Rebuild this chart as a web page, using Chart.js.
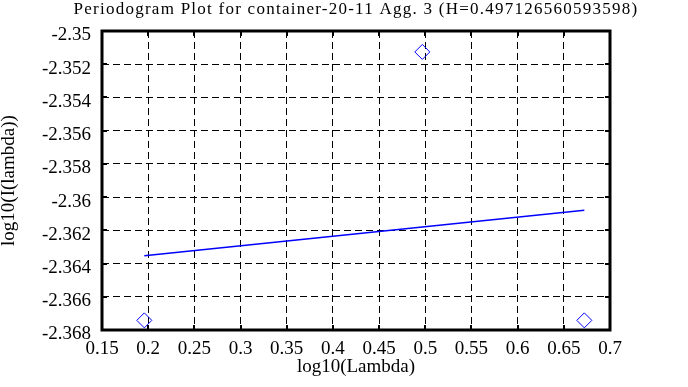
<!DOCTYPE html>
<html>
<head>
<meta charset="utf-8">
<script src="https://cdn.jsdelivr.net/npm/chart.js@4/dist/chart.umd.min.js"></script>
<style>
  html, body { margin: 0; padding: 0; background: #fff; }
  #wrap { width: 688px; height: 387px; position: relative; }
</style>
</head>
<body>
<div id="wrap"><canvas id="c" width="688" height="387"></canvas></div>
<script>
// Observed periodogram points (log10 lambda, log10 I(lambda))
const lambdaLog = [0.1958, 0.4968, 0.6722];
const periodLog = [-2.36742, -2.35126, -2.36742];
// Fitted regression line end points
const fitX = [0.1958, 0.6722];
const fitY = [-2.36353, -2.36079];
// Tick labels
const xTicks = [0.15, 0.2, 0.25, 0.3, 0.35, 0.4, 0.45, 0.5, 0.55, 0.6, 0.65, 0.7];
const yTicks = [-2.368, -2.366, -2.364, -2.362, -2.36, -2.358, -2.356, -2.354, -2.352, -2.35];

const titleText = 'Periodogram Plot for container-20-11 Agg. 3 (H=0.497126560593598)';
const FONT = 'Liberation Serif';

const frame = {
  id: 'frame',
  afterDraw(chart) {
    const { ctx, chartArea: a, scales } = chart;
    ctx.save();
    ctx.strokeStyle = '#000';
    ctx.setLineDash([]);
    ctx.lineWidth = 2;
    const L = 5;
    ctx.beginPath();
    xTicks.forEach(v => {
      const px = Math.round(scales.x.getPixelForValue(v));
      ctx.moveTo(px, a.top); ctx.lineTo(px, a.top + L);
      ctx.moveTo(px, a.bottom); ctx.lineTo(px, a.bottom - L);
    });
    yTicks.forEach(v => {
      const py = Math.round(scales.y.getPixelForValue(v));
      ctx.moveTo(a.left, py); ctx.lineTo(a.left + L, py);
      ctx.moveTo(a.right, py); ctx.lineTo(a.right - L, py);
    });
    ctx.stroke();
    ctx.lineWidth = 3;
    ctx.strokeRect(a.left, a.top, a.right - a.left, a.bottom - a.top);

    // chart title
    ctx.fillStyle = '#000';
    ctx.font = '17px "' + FONT + '"';
    if ('letterSpacing' in ctx) ctx.letterSpacing = '1.25px';
    ctx.textAlign = 'center';
    ctx.textBaseline = 'alphabetic';
    ctx.fillText(titleText, (a.left + a.right) / 2, 14);
    ctx.restore();
  }
};

new Chart(document.getElementById('c'), {
  type: 'scatter',
  data: {
    datasets: [
      {
        label: 'periodogram',
        data: lambdaLog.map((x, i) => ({ x, y: periodLog[i] })),
        pointStyle: 'rectRot',
        pointRadius: 7.5,
        pointBorderColor: '#0000ff',
        pointBackgroundColor: 'rgba(0,0,0,0)',
        pointBorderWidth: 1,
        showLine: false
      },
      {
        label: 'fit',
        data: fitX.map((x, i) => ({ x, y: fitY[i] })),
        showLine: true,
        borderColor: '#0000ff',
        borderWidth: 1.5,
        pointRadius: 0,
        fill: false
      }
    ]
  },
  options: {
    responsive: false,
    animation: false,
    events: [],
    layout: { padding: { left: 0, right: 78, top: 31, bottom: 0 } },
    plugins: {
      legend: { display: false },
      tooltip: { enabled: false },
      title: { display: false }
    },
    scales: {
      x: {
        type: 'linear',
        min: 0.15, max: 0.7,
        afterBuildTicks: s => { s.ticks = xTicks.map(v => ({ value: v })); },
        afterFit: s => { s.height = 57; },
        ticks: {
          color: '#000',
          font: { family: FONT, size: 19 },
          padding: 8,
          maxRotation: 0,
          autoSkip: false,
          callback: v => String(v)
        },
        grid: { color: '#000', lineWidth: 1, drawTicks: false },
        border: { display: false, dash: [7, 4] },
        title: {
          display: true,
          text: 'log10(Lambda)',
          color: '#000',
          font: { family: FONT, size: 19 },
          padding: { top: 0, bottom: 9 }
        }
      },
      y: {
        type: 'linear',
        min: -2.368, max: -2.35,
        afterBuildTicks: s => { s.ticks = yTicks.map(v => ({ value: v })); },
        afterFit: s => { s.width = 102; },
        ticks: {
          color: '#000',
          font: { family: FONT, size: 19, lineHeight: '9px' },
          padding: 11,
          autoSkip: false,
          callback: v => ['', String(v)]
        },
        grid: { color: '#000', lineWidth: 1, drawTicks: false },
        border: { display: false, dash: [7, 4] },
        title: {
          display: true,
          text: 'log10(I(lambda))',
          color: '#000',
          font: { family: FONT, size: 19, lineHeight: 1.0 },
          padding: { top: 0, bottom: 0 }
        }
      }
    }
  },
  plugins: [frame]
});
</script>
</body>
</html>
